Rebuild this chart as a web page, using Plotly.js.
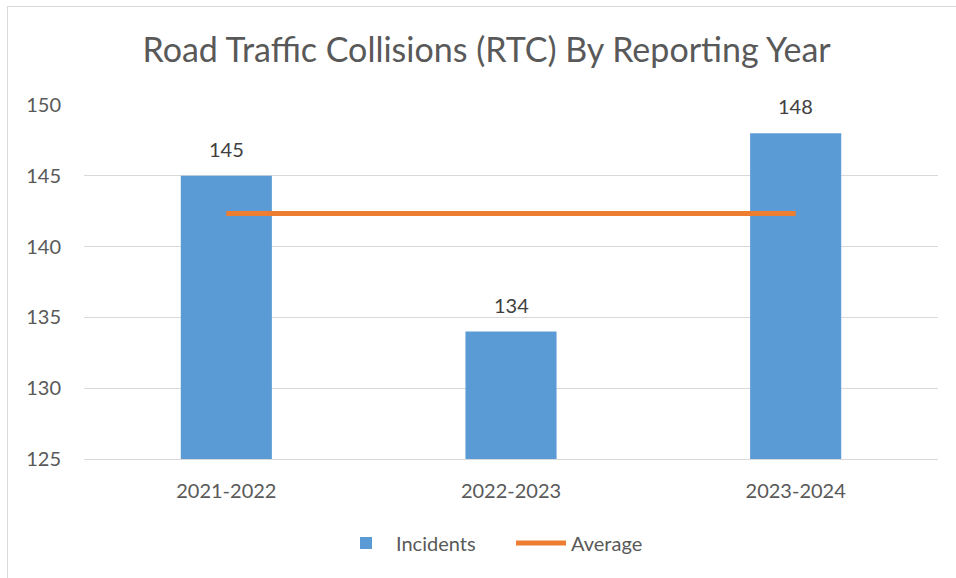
<!DOCTYPE html>
<html>
<head>
<meta charset="utf-8">
<script src="https://cdn.plot.ly/plotly-3.0.1.min.js"></script>
<style>
  html, body { margin: 0; padding: 0; background: #fff; overflow: hidden; }
  #chart { position: absolute; left: 0; top: 0; width: 956px; height: 578px; }
  #frame { position: absolute; left: 7px; top: 6px; width: 1000px; height: 1000px;
           border: 1px solid #d9d9d9; pointer-events: none; }
</style>
</head>
<body>
<div id="chart"></div>
<div id="frame"></div>
<script>
'use strict';

const years = ['2021-2022', '2022-2023', '2023-2024'];
const incidents = [145, 134, 148];
const average = [142.33, 142.33, 142.33];
const yTicks = [125, 130, 135, 140, 145, 150];

const FONT = 'Lato, "Open Sans", sans-serif';
const GREY = '#595959';

const bars = {
  type: 'bar', name: 'Incidents', x: years, y: incidents,
  width: 0.32,
  marker: { color: '#5B9BD5' },
  hoverinfo: 'x+y',
};

const avgLine = {
  type: 'scatter', mode: 'lines', name: 'Average', x: years, y: average,
  line: { color: '#ED7D31', width: 5 },
};

// value labels above each bar
const annotations = years.map((yr, i) => ({
  x: yr, y: incidents[i], text: String(incidents[i]),
  showarrow: false, yanchor: 'bottom', yshift: 13,
  font: { family: FONT, size: 20, color: '#404040' },
}));

Plotly.newPlot('chart', [bars, avgLine], {
  width: 956, height: 578,
  margin: { l: 84, r: 18, t: 105, b: 119 },
  paper_bgcolor: 'rgba(0,0,0,0)', plot_bgcolor: '#fff',
  font: { family: FONT, color: GREY },
  title: {
    text: 'Road Traffic Collisions (RTC) By Reporting Year',
    font: { family: FONT, size: 34, color: GREY },
    x: 0.509, xanchor: 'center', y: 0.913, yanchor: 'middle',
  },
  xaxis: {
    type: 'category', showgrid: false, showline: true, linecolor: '#d9d9d9', linewidth: 1,
    ticks: '', ticklabelstandoff: 14,
    tickfont: { family: FONT, size: 20, color: GREY },
  },
  yaxis: {
    range: [125, 150], tickvals: yTicks, showgrid: true, gridcolor: '#d9d9d9', gridwidth: 1,
    zeroline: false, showline: false, ticks: '', ticklabelstandoff: 22,
    tickfont: { family: FONT, size: 20, color: GREY },
  },
  showlegend: true,
  legend: {
    orientation: 'h', x: 0.5, xanchor: 'center', y: -0.237, yanchor: 'middle',
    font: { family: FONT, size: 20, color: GREY }, itemwidth: 50,
    entrywidth: 110, traceorder: 'normal',
  },
  annotations,
}, { displayModeBar: false, staticPlot: true });
</script>
</body>
</html>
